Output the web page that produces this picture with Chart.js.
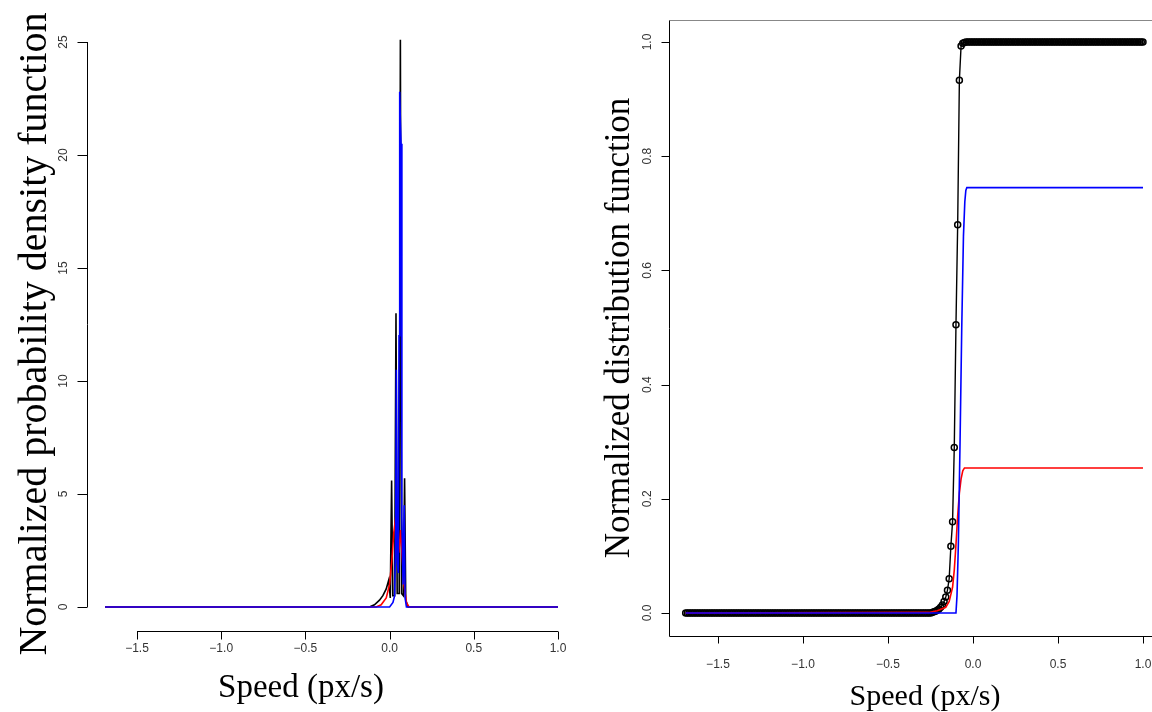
<!DOCTYPE html>
<html><head><meta charset="utf-8">
<script src="https://cdn.jsdelivr.net/npm/chart.js@4/dist/chart.umd.min.js"></script>
<style>
html,body{margin:0;padding:0;background:#fff;overflow:hidden;width:1152px;height:712px;}
#wrapL{position:absolute;left:0;top:0;width:580px;height:712px;}
#wrapR{position:absolute;left:580px;top:0;width:600px;height:712px;}
</style></head><body>
<div id="wrapL"><canvas id="cL" width="580" height="712"></canvas></div>
<div id="wrapR"><canvas id="cR" width="600" height="712"></canvas></div>
<script>
// ---- tick labels ----
const speedTicks = [-1.5, -1.0, -0.5, 0.0, 0.5, 1.0];
const speedTickLabels = ['\u22121.5', '\u22121.0', '\u22120.5', '0.0', '0.5', '1.0'];
const pdfTicks = [0, 5, 10, 15, 20, 25];
const pdfTickLabels = ['0', '5', '10', '15', '20', '25'];
const cdfTicks = [0, 0.2, 0.4, 0.6, 0.8, 1.0];
const cdfTickLabels = ['0.0', '0.2', '0.4', '0.6', '0.8', '1.0'];

// ---- left panel: normalized density ----
const pdfBlackX = [-1.69, -0.12, -0.09, -0.06, -0.04, -0.02, -0.005, 0.004, 0.012, 0.019, 0.030, 0.038, 0.045, 0.057, 0.064, 0.071, 0.082, 0.089, 0.096, 0.11, 1.0];
const pdfBlackY = [0, 0, 0.1, 0.3, 0.5, 0.8, 1.2, 0.4, 5.6, 0.5, 0.5, 13.0, 0.6, 0.6, 25.1, 0.6, 0.5, 5.7, 0.3, 0, 0];
const pdfRedX = [-1.69, -0.08, -0.05, -0.02, 0.0, 0.015, 0.025, 0.035, 0.045, 0.055, 0.065, 0.075, 0.085, 0.1, 0.115, 1.0];
const pdfRedY = [0, 0, 0.1, 0.4, 1.0, 2.2, 3.3, 3.9, 3.0, 2.4, 3.4, 2.2, 1.0, 0.2, 0, 0];
const pdfBlueX = [-1.69, 0.0, 0.02, 0.03, 0.036, 0.040, 0.045, 0.052, 0.056, 0.060, 0.064, 0.068, 0.073, 0.08, 0.087, 0.092, 0.1, 1.0];
const pdfBlueY = [0, 0, 0.2, 0.5, 3.0, 10.5, 2.0, 1.5, 12.0, 22.8, 21.5, 20.5, 4.0, 1.0, 4.5, 0.4, 0, 0];

// ---- right panel: normalized distribution ----
const cdfSpeed = [
-1.69,-1.68,-1.67,-1.66,-1.65,-1.64,-1.63,-1.62,-1.61,-1.60,
-1.59,-1.58,-1.57,-1.56,-1.55,-1.54,-1.53,-1.52,-1.51,-1.50,
-1.49,-1.48,-1.47,-1.46,-1.45,-1.44,-1.43,-1.42,-1.41,-1.40,
-1.39,-1.38,-1.37,-1.36,-1.35,-1.34,-1.33,-1.32,-1.31,-1.30,
-1.29,-1.28,-1.27,-1.26,-1.25,-1.24,-1.23,-1.22,-1.21,-1.20,
-1.19,-1.18,-1.17,-1.16,-1.15,-1.14,-1.13,-1.12,-1.11,-1.10,
-1.09,-1.08,-1.07,-1.06,-1.05,-1.04,-1.03,-1.02,-1.01,-1.00,
-0.99,-0.98,-0.97,-0.96,-0.95,-0.94,-0.93,-0.92,-0.91,-0.90,
-0.89,-0.88,-0.87,-0.86,-0.85,-0.84,-0.83,-0.82,-0.81,-0.80,
-0.79,-0.78,-0.77,-0.76,-0.75,-0.74,-0.73,-0.72,-0.71,-0.70,
-0.69,-0.68,-0.67,-0.66,-0.65,-0.64,-0.63,-0.62,-0.61,-0.60,
-0.59,-0.58,-0.57,-0.56,-0.55,-0.54,-0.53,-0.52,-0.51,-0.50,
-0.49,-0.48,-0.47,-0.46,-0.45,-0.44,-0.43,-0.42,-0.41,-0.40,
-0.39,-0.38,-0.37,-0.36,-0.35,-0.34,-0.33,-0.32,-0.31,-0.30,
-0.29,-0.28,-0.27,-0.26,-0.25,-0.24,-0.23,-0.22,-0.21,-0.20,
-0.19,-0.18,-0.17,-0.16,-0.15,-0.14,-0.13,-0.12,-0.11,-0.10,
-0.09,-0.08,-0.07,-0.06,-0.05,-0.04,-0.03,-0.02,-0.01,0.00,
0.01,0.02,0.03,0.04,0.05,0.06,0.07,0.08,0.09,0.10,
0.11,0.12,0.13,0.14,0.15,0.16,0.17,0.18,0.19,0.20,
0.21,0.22,0.23,0.24,0.25,0.26,0.27,0.28,0.29,0.30,
0.31,0.32,0.33,0.34,0.35,0.36,0.37,0.38,0.39,0.40,
0.41,0.42,0.43,0.44,0.45,0.46,0.47,0.48,0.49,0.50,
0.51,0.52,0.53,0.54,0.55,0.56,0.57,0.58,0.59,0.60,
0.61,0.62,0.63,0.64,0.65,0.66,0.67,0.68,0.69,0.70,
0.71,0.72,0.73,0.74,0.75,0.76,0.77,0.78,0.79,0.80,
0.81,0.82,0.83,0.84,0.85,0.86,0.87,0.88,0.89,0.90,
0.91,0.92,0.93,0.94,0.95,0.96,0.97,0.98,0.99,1.00];
const cdfBlack = [
0,0,0,0,0,0,0,0,0,0, 0,0,0,0,0,0,0,0,0,0, 0,0,0,0,0,0,0,0,0,0,
0,0,0,0,0,0,0,0,0,0, 0,0,0,0,0,0,0,0,0,0, 0,0,0,0,0,0,0,0,0,0,
0,0,0,0,0,0,0,0,0,0, 0,0,0,0,0,0,0,0,0,0, 0,0,0,0,0,0,0,0,0,0,
0,0,0,0,0,0,0,0,0,0, 0,0,0,0,0,0,0,0,0,0, 0,0,0,0,0,0,0,0,0,0,
0,0,0,0,0,0,0,0,0,0,
0,0,0,0,0,0,0,0,0,0,
0,0,0,0,0,0.001,0.002,0.003,0.005,0.007,
0.010,0.014,0.020,0.028,0.040,0.060,0.117,0.160,0.290,0.505,
0.680,0.933,0.993,0.998,0.999,1,1,1,1,1,
1,1,1,1,1,1,1,1,1,1, 1,1,1,1,1,1,1,1,1,1, 1,1,1,1,1,1,1,1,1,1,
1,1,1,1,1,1,1,1,1,1, 1,1,1,1,1,1,1,1,1,1, 1,1,1,1,1,1,1,1,1,1,
1,1,1,1,1,1,1,1,1,1, 1,1,1,1,1,1,1,1,1,1, 1,1,1,1,1,1,1,1,1,1,
1,1,1,1,1,1,1,1,1,1];
const cdfRedX = [-1.69, -0.26, -0.21, -0.16, -0.14, -0.12, -0.11, -0.10, -0.09, -0.08, -0.07, -0.06, -0.05, 1.0];
const cdfRedY = [0, 0.001, 0.004, 0.01, 0.02, 0.045, 0.075, 0.12, 0.17, 0.21, 0.235, 0.249, 0.254, 0.254];
const cdfBlueX = [-1.69, -0.10, -0.094, -0.086, -0.076, -0.066, -0.056, -0.048, -0.042, -0.036, 1.0];
const cdfBlueY = [0, 0, 0.03, 0.12, 0.30, 0.50, 0.66, 0.72, 0.74, 0.745, 0.745];

const pts = (xs, ys) => xs.map((x, i) => ({x: x, y: ys[i]}));

function makeDecor(cfg) {
  return {
    id: 'decor',
    afterDraw(chart) {
      const ctx = chart.ctx, ca = chart.chartArea, xs = chart.scales.x, ys = chart.scales.y;
      ctx.save();
      ctx.strokeStyle = '#000';
      ctx.lineWidth = 1;
      if (cfg.box) {
        ctx.strokeStyle = '#888';
        ctx.beginPath(); ctx.moveTo(Math.round(ca.left) + 0.5, Math.round(ca.top) + 0.5);
        ctx.lineTo(ca.right, Math.round(ca.top) + 0.5); ctx.stroke();
        ctx.strokeStyle = '#000';
        ctx.beginPath();
        ctx.moveTo(Math.round(ca.left) + 0.5, Math.round(ca.top) + 0.5);
        ctx.lineTo(Math.round(ca.left) + 0.5, Math.round(ca.bottom) + 0.5);
        ctx.lineTo(ca.right, Math.round(ca.bottom) + 0.5);
        ctx.stroke();
      } else {
        const xl = Math.round(ca.left) + 0.5, yb = Math.round(ca.bottom) + 0.5;
        ctx.beginPath();
        ctx.moveTo(xs.getPixelForValue(speedTicks[0]), yb);
        ctx.lineTo(xs.getPixelForValue(speedTicks[speedTicks.length - 1]), yb);
        ctx.moveTo(xl, ys.getPixelForValue(cfg.yTicks[0]));
        ctx.lineTo(xl, ys.getPixelForValue(cfg.yTicks[cfg.yTicks.length - 1]));
        ctx.stroke();
      }
      const yb = Math.round(ca.bottom) + 0.5;
      ctx.beginPath();
      speedTicks.forEach(v => {
        const px = Math.round(xs.getPixelForValue(v)) + 0.5;
        ctx.moveTo(px, yb); ctx.lineTo(px, yb + cfg.xTickLen);
      });
      const xl = Math.round(ca.left) + 0.5;
      cfg.yTicks.forEach(v => {
        const py = Math.round(ys.getPixelForValue(v)) + 0.5;
        ctx.moveTo(xl, py); ctx.lineTo(xl - cfg.yTickLen, py);
      });
      ctx.stroke();
      ctx.fillStyle = '#333';
      ctx.font = cfg.tickFont + 'px "Liberation Sans", Arial, sans-serif';
      ctx.textAlign = 'center'; ctx.textBaseline = 'middle';
      speedTicks.forEach((v, i) => {
        ctx.fillText(speedTickLabels[i], xs.getPixelForValue(v), cfg.xLabelY);
      });
      cfg.yTicks.forEach((v, i) => {
        ctx.save();
        ctx.translate(cfg.yLabelX, ys.getPixelForValue(v));
        ctx.rotate(-Math.PI / 2);
        ctx.fillText(cfg.yTickLabels[i], 0, 0);
        ctx.restore();
      });
      ctx.fillStyle = '#000';
      ctx.font = cfg.xTitleFont + 'px "Liberation Serif", "Times New Roman", serif';
      ctx.fillText('Speed (px/s)', cfg.xTitleX, cfg.xTitleY);
      ctx.font = cfg.yTitleFont + 'px "Liberation Serif", "Times New Roman", serif';
      ctx.save();
      ctx.translate(cfg.yTitleX, cfg.yTitleY);
      ctx.rotate(-Math.PI / 2);
      ctx.fillText(cfg.yTitle, 0, 0);
      ctx.restore();
      ctx.restore();
    }
  };
}

const common = {
  responsive: false, animation: false, events: [],
  plugins: { legend: { display: false }, tooltip: { enabled: false } },
  elements: { line: { tension: 0 } }
};

new Chart(document.getElementById('cL'), {
  type: 'line',
  data: { datasets: [
    { data: pts(pdfBlueX, pdfBlueY), borderColor: '#0000ff', borderWidth: 1.6, pointRadius: 0, order: 0, clip: false },
    { data: pts(pdfRedX, pdfRedY), borderColor: '#ff0000', borderWidth: 1.6, pointRadius: 0, order: 1, clip: false },
    { data: pts(pdfBlackX, pdfBlackY), borderColor: '#000000', borderWidth: 1.6, pointRadius: 0, order: 2, clip: false }
  ]},
  options: Object.assign({}, common, {
    layout: { padding: { left: 87, top: 42, right: 4, bottom: 81 } },
    scales: {
      x: { type: 'linear', min: -1.797, max: 1.107, display: false },
      y: { type: 'linear', min: -1.062, max: 25, display: false }
    }
  }),
  plugins: [makeDecor({
    box: false, yTicks: pdfTicks, yTickLabels: pdfTickLabels,
    xTickLen: 8, yTickLen: 10, tickFont: 12, xLabelY: 649, yLabelX: 64,
    xTitleFont: 33, yTitleFont: 40, xTitleX: 301, xTitleY: 688, yTitleX: 35, yTitleY: 334,
    yTitle: 'Normalized probability density function'
  })]
});

new Chart(document.getElementById('cR'), {
  type: 'line',
  data: { datasets: [
    { data: pts(cdfBlueX, cdfBlueY), borderColor: '#0000ff', borderWidth: 1.6, pointRadius: 0, order: 0 },
    { data: pts(cdfRedX, cdfRedY), borderColor: '#ff0000', borderWidth: 1.6, pointRadius: 0, order: 1 },
    { data: pts(cdfSpeed, cdfBlack), borderColor: '#000000', borderWidth: 1.4, pointRadius: 3,
      pointStyle: 'circle', pointBorderColor: '#000', pointBackgroundColor: 'rgba(0,0,0,0)', pointBorderWidth: 1.5, order: 2 }
  ]},
  options: Object.assign({}, common, {
    layout: { padding: { left: 89, top: 20, right: 19, bottom: 76 } },
    scales: {
      x: { type: 'linear', min: -1.788, max: 1.106, display: false },
      y: { type: 'linear', min: -0.0403, max: 1.0385, display: false }
    }
  }),
  plugins: [makeDecor({
    box: true, yTicks: cdfTicks, yTickLabels: cdfTickLabels,
    xTickLen: 7, yTickLen: 8, tickFont: 12, xLabelY: 665, yLabelX: 68,
    xTitleFont: 30, yTitleFont: 35, xTitleX: 345, xTitleY: 697, yTitleX: 40, yTitleY: 328,
    yTitle: 'Normalized distribution function'
  })]
});
</script></body></html>
